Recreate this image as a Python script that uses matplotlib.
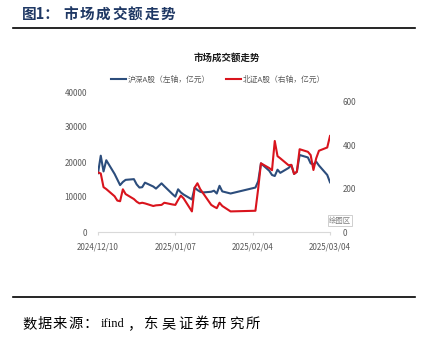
import matplotlib
matplotlib.use("Agg")
import matplotlib.pyplot as plt
import matplotlib.dates as mdates
from matplotlib.lines import Line2D
import pandas as pd

plt.rcParams['font.family'] = ['Noto Sans CJK SC', 'DejaVu Sans']

W, H = 428, 341

# trading days (Spring Festival break 01/28 - 02/04)
dates = [
    '2024-12-10', '2024-12-11', '2024-12-12', '2024-12-13', '2024-12-16', '2024-12-17',
    '2024-12-18', '2024-12-19', '2024-12-20', '2024-12-23', '2024-12-24', '2024-12-25',
    '2024-12-26', '2024-12-27', '2024-12-30', '2024-12-31',
    '2025-01-02', '2025-01-03', '2025-01-06', '2025-01-07', '2025-01-08', '2025-01-09',
    '2025-01-10', '2025-01-13', '2025-01-14', '2025-01-15', '2025-01-16', '2025-01-17',
    '2025-01-20', '2025-01-21', '2025-01-22', '2025-01-23', '2025-01-24', '2025-01-27',
    '2025-02-05', '2025-02-06', '2025-02-07', '2025-02-10', '2025-02-11', '2025-02-12',
    '2025-02-13', '2025-02-14', '2025-02-17', '2025-02-18', '2025-02-19', '2025-02-20',
    '2025-02-21', '2025-02-24', '2025-02-25', '2025-02-26', '2025-02-27', '2025-02-28',
    '2025-03-03', '2025-03-04',
]

# 沪深A股 turnover (亿元, left axis)
hs_turnover = [
    16800, 21800, 17300, 20500, 16600, 15000, 13400, 14300, 14900, 15100, 13600, 12700,
    12800, 14100, 13000, 12400,
    13900, 13100, 10800, 10100, 12200, 11300, 10700, 9300, 12700, 12000, 11500, 11300,
    11500, 11800, 11000, 13200, 11600, 11000,
    12700, 14500, 19600, 17500, 16300, 16000, 17800, 16900, 18300, 19100, 16600, 17200,
    22000, 21300, 19600, 19300, 20100, 19000,
    16300, 14200,
]

# 北证A股 turnover (亿元, right axis)
bj_turnover = [
    275, 270, 207, 198, 165, 145, 142, 197, 175, 152, 140, 132,
    135, 132, 120, 123,
    125, 135, 127, 125, 148, 168, 155, 95, 205, 225, 198, 180,
    125, 117, 110, 135, 120, 95,
    98, 200, 317, 295, 285, 420, 350, 340, 308, 310, 268, 278,
    382, 370, 355, 286, 340, 375,
    390, 443,
]

tick_dates = ['2024-12-10', '2025-01-07', '2025-02-04', '2025-03-04']

x = pd.to_datetime(dates)
xt = pd.to_datetime(tick_dates)

blue = '#2c4d7c'
red = '#d9141d'
grey = '#595959'

fig = plt.figure(figsize=(W / 100, H / 100), dpi=100)
ax = fig.add_axes([98 / W, 1 - 232 / H, 232 / W, 140 / H])
ax2 = ax.twinx()

ax.plot(x, hs_turnover, color=blue, lw=1.5, solid_joinstyle='round')
ax2.plot(x, bj_turnover, color=red, lw=1.5, solid_joinstyle='round')

ax.set_xlim(xt[0], xt[-1])
ax.set_ylim(0, 40000)
ax.set_yticks(range(0, 40001, 10000))
ax2.set_ylim(0, 646)
ax2.set_yticks([0, 200, 400, 600])

ax.set_xticks(xt)
ax.xaxis.set_major_formatter(mdates.DateFormatter('%Y/%m/%d'))

for a in (ax, ax2):
    for s in a.spines.values():
        s.set_visible(False)
ax.spines['bottom'].set_visible(True)
ax.spines['bottom'].set_color('#d9d9d9')
ax.spines['bottom'].set_linewidth(0.8)

ax.tick_params(axis='x', length=2.5, width=0.8, color='#d9d9d9', pad=5,
               labelsize=5.8, labelcolor=grey)
ax.tick_params(axis='y', length=0, pad=8, labelsize=5.8, labelcolor=grey)
ax2.tick_params(axis='y', length=0, pad=9, labelsize=5.8, labelcolor=grey)

# chart title and legend
fig.text(227 / W, 1 - 58 / H, '市场成交额走势', ha='center', va='center',
         fontsize=6.8, fontweight='bold', color='#1a1a1a')
handles = [Line2D([], [], color=blue, lw=1.5), Line2D([], [], color=red, lw=1.5)]
fig.legend(handles, ['沪深A股（左轴，亿元）', '北证A股（右轴，亿元）'],
           loc='center', bbox_to_anchor=(218 / W, 1 - 80 / H), ncol=2,
           frameon=False, fontsize=5.6, handlelength=2.0, handletextpad=0.2,
           columnspacing=2.0, labelcolor=grey)

fig.text(340 / W, 1 - 220.5 / H, '绘图区', ha='center', va='center', fontsize=5.3,
         color='#7f7f7f',
         bbox=dict(boxstyle='square,pad=0.15', fc='white', ec='#c8c8c8', lw=0.6))


def spaced(x0, y0, s, pitch, **kw):
    for i, ch in enumerate(s):
        fig.text((x0 + i * pitch) / W, 1 - y0 / H, ch, ha='left', va='center', **kw)


# heading
fig.text(22 / W, 1 - 14 / H, '图1：', ha='left', va='center', fontsize=10.5,
         fontweight='bold', color='#1f3864')
spaced(63, 14, '市场成交额走势', 16.3, fontsize=10.5, fontweight='bold', color='#1f3864')
fig.add_artist(Line2D([13 / W, 415 / W], [1 - 28.3 / H] * 2, color='black', lw=1.2))

# source line
fig.add_artist(Line2D([13 / W, 415 / W], [1 - 297.3 / H] * 2, color='black', lw=1.2))
spaced(22, 324, '数据来源：', 15.4, fontsize=10.3, color='black')
fig.text(101 / W, 1 - 324 / H, 'ifind', ha='left', va='center', fontsize=9,
         family=['Liberation Serif', 'DejaVu Serif'], color='black')
fig.text(127 / W, 1 - 324 / H, '，', ha='left', va='center', fontsize=10.3, color='black')
spaced(144, 324, '东吴证券研究所', 17, fontsize=10.3, color='black')

fig.savefig('out.png', dpi=100)
